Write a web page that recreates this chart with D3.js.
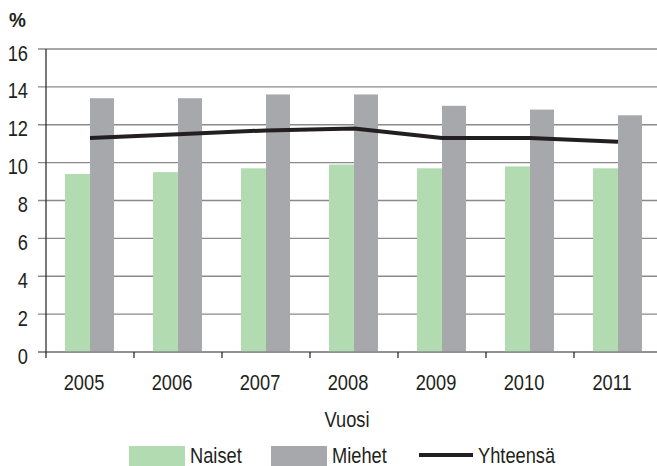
<!DOCTYPE html>
<html>
<head>
<meta charset="utf-8">
<script src="https://cdn.jsdelivr.net/npm/d3@7"></script>
<style>
  html, body { margin: 0; padding: 0; background: #fff; }
  svg { display: block; }
  text { font-family: "Liberation Sans", Arial, sans-serif; fill: #231f20; }
</style>
</head>
<body>
<svg id="chart" width="657" height="466"></svg>
<script>
// data
const years = ["2005", "2006", "2007", "2008", "2009", "2010", "2011"];
const naiset = [9.4, 9.5, 9.7, 9.9, 9.7, 9.8, 9.7];
const miehet = [13.4, 13.4, 13.6, 13.6, 13.0, 12.8, 12.5];
const yhteensa = [11.3, 11.5, 11.7, 11.8, 11.3, 11.3, 11.1];
const yTicks = [0, 2, 4, 6, 8, 10, 12, 14, 16];

const GREEN = "#b2dbb2";
const GREY = "#a7a8ab";
const LINE = "#231f20";
const GRID = "#8a8a8c";
const SQUEEZE = 0.83; // fake a condensed face

const svg = d3.select("#chart");

function label(parent, x, y, txt, anchor = "start", size = 22, weight = 400, sq = SQUEEZE) {
  return parent.append("text")
    .attr("transform", `translate(${x},${y}) scale(${sq},1)`)
    .attr("text-anchor", anchor)
    .style("font-size", size + "px")
    .style("font-weight", weight)
    .text(txt);
}

const x = d3.scaleBand().domain(years).range([46, 662]).paddingInner(0).paddingOuter(0);
const y = d3.scaleLinear().domain([0, 16]).range([352, 49]);
const barW = 25;
const cx = (d) => x(d) + x.bandwidth() / 2;

// gridlines
svg.append("g")
  .selectAll("line")
  .data(yTicks)
  .join("line")
  .attr("x1", 38)
  .attr("x2", 657)
  .attr("y1", (d) => y(d))
  .attr("y2", (d) => y(d))
  .attr("stroke", GRID)
  .attr("stroke-width", 1.4);

// y tick labels
const yLab = svg.append("g");
yTicks.forEach((d) => label(yLab, 28, y(d) + 11.5, d, "end"));

label(svg, 9, 27, "%", "start", 20, 700, 0.95);

// bars
svg.append("g")
  .selectAll("rect")
  .data(years)
  .join("rect")
  .attr("x", (d) => cx(d) - barW)
  .attr("width", barW)
  .attr("y", (d, i) => y(naiset[i]))
  .attr("height", (d, i) => y(0) - y(naiset[i]))
  .attr("fill", GREEN);

svg.append("g")
  .selectAll("rect")
  .data(years)
  .join("rect")
  .attr("x", (d) => cx(d))
  .attr("width", barW - 1)
  .attr("y", (d, i) => y(miehet[i]))
  .attr("height", (d, i) => y(0) - y(miehet[i]))
  .attr("fill", GREY);

// axes lines
svg.append("line")
  .attr("x1", 38).attr("x2", 657)
  .attr("y1", y(0)).attr("y2", y(0))
  .attr("stroke", GRID).attr("stroke-width", 1.4);

svg.append("line")
  .attr("x1", 46).attr("x2", 46)
  .attr("y1", y(16)).attr("y2", y(0) + 6)
  .attr("stroke", LINE).attr("stroke-width", 1.2);

svg.append("g")
  .selectAll("line")
  .data(years.slice(1))
  .join("line")
  .attr("x1", (d) => x(d)).attr("x2", (d) => x(d))
  .attr("y1", y(0)).attr("y2", y(0) + 6)
  .attr("stroke", LINE).attr("stroke-width", 1.2);

// x labels
const xLab = svg.append("g");
years.forEach((d) => label(xLab, cx(d) - 6, 390, d, "middle"));

label(svg, 347, 427, "Vuosi", "middle");

// total line
const line = d3.line()
  .x((d, i) => cx(years[i]))
  .y((d) => y(d));

svg.append("path")
  .datum(yhteensa)
  .attr("d", line)
  .attr("fill", "none")
  .attr("stroke", LINE)
  .attr("stroke-width", 4);

// legend
const legend = svg.append("g");
legend.append("rect").attr("x", 129).attr("y", 446).attr("width", 56).attr("height", 20).attr("fill", GREEN);
label(legend, 190, 463, "Naiset");
legend.append("rect").attr("x", 271).attr("y", 446).attr("width", 56).attr("height", 20).attr("fill", GREY);
label(legend, 332, 463, "Miehet");
legend.append("line").attr("x1", 419).attr("x2", 473).attr("y1", 455).attr("y2", 455)
  .attr("stroke", LINE).attr("stroke-width", 4);
label(legend, 478, 463, "Yhteensä");
</script>
</body>
</html>
